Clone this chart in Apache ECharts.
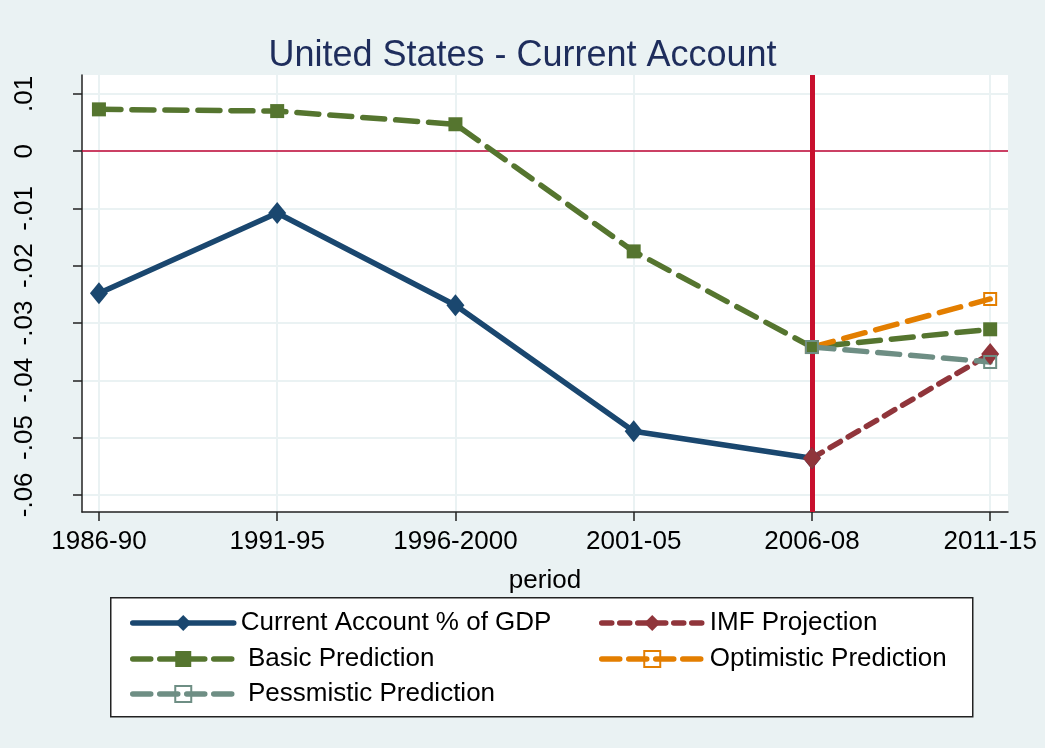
<!DOCTYPE html>
<html>
<head>
<meta charset="utf-8">
<script src="https://cdn.jsdelivr.net/npm/echarts@6/dist/echarts.min.js"></script>
<style>
  html, body { margin: 0; padding: 0; background: #eaf2f3; }
  #chart { width: 1045px; height: 748px; }
</style>
</head>
<body>
<div id="chart"></div>
<script>
// periods on the x axis
const periods = ['1986-90', '1991-95', '1996-2000', '2001-05', '2006-08', '2011-15']
const yTicks = [-0.06, -0.05, -0.04, -0.03, -0.02, -0.01, 0, 0.01]

// series values (null = no point)
const currentAccount = [-0.0248, -0.0108, -0.0269, -0.0489, -0.0536, null]
const imfProjection = [null, null, null, null, -0.0536, -0.0354]
const basicPrediction = [0.0073, 0.0070, 0.0047, -0.0175, -0.0342, -0.0311]
const optimisticPrediction = [null, null, null, null, -0.0342, -0.0258]
const pessimisticPrediction = [null, null, null, null, -0.0342, -0.0368]

const FONT = '"Liberation Sans", Arial, sans-serif'

const toPairs = arr => arr.map((v, i) => (v === null ? null : [i, v])).filter(p => p)

const fmtY = v => {
  if (Math.abs(v) < 1e-9) return '0'
  const s = Math.abs(v).toFixed(2).replace(/^0/, '')
  return v < 0 ? '-' + s : s
}

const chart = echarts.init(document.getElementById('chart'))

const mkSeries = (name, data, color, opts) => Object.assign({
  name,
  type: 'line',
  data: toPairs(data),
  z: 5,
  lineStyle: { color, width: 5.5, cap: 'round' },
  itemStyle: { color, borderColor: color, borderWidth: 0 },
  symbolSize: 14,
  animation: false
}, opts)

// legend entries: name, left, top, dash
const legendItems = [
  ['Current Account % of GDP', 125, 605, 'solid'],
  [' Basic Prediction', 125, 641, [18, 9]],
  [' Pessmistic Prediction', 125, 676, [18, 9]],
  ['IMF Projection', 594, 605, [10, 8]],
  ['Optimistic Prediction', 594, 641, [18, 9]]
]

const option = {
  backgroundColor: '#eaf2f3',
  title: {
    text: 'United States - Current Account',
    left: 'center',
    top: 33,
    textStyle: { fontFamily: FONT, fontSize: 36, fontWeight: 'normal', color: '#1e2d5c' }
  },
  grid: { left: 82, right: 37, top: 75, bottom: 236, show: true, backgroundColor: '#ffffff', borderWidth: 0 },
  xAxis: {
    type: 'value',
    min: -0.095,
    max: 5.1,
    splitNumber: 5,
    name: 'period',
    nameLocation: 'middle',
    nameGap: 56,
    nameTextStyle: { fontFamily: FONT, fontSize: 26, color: '#000' },
    axisLine: { show: true, onZero: false, lineStyle: { color: '#222', width: 1.5 } },
    axisTick: { show: true, length: 9, customValues: [0, 1, 2, 3, 4, 5], lineStyle: { color: '#222', width: 1.5 } },
    axisLabel: {
      customValues: [0, 1, 2, 3, 4, 5],
      formatter: v => periods[Math.round(v)],
      fontFamily: FONT, fontSize: 26, color: '#000', margin: 17
    },
    splitLine: { show: true, lineStyle: { color: '#eaf2f3', width: 2 } }
  },
  yAxis: {
    type: 'value',
    min: -0.063,
    max: 0.0133,
    splitNumber: 8,
    axisLine: { show: true, onZero: false, lineStyle: { color: '#222', width: 1.5 } },
    axisTick: { show: true, length: 9, customValues: yTicks, lineStyle: { color: '#222', width: 1.5 } },
    axisLabel: {
      customValues: yTicks,
      formatter: fmtY,
      rotate: 90,
      fontFamily: FONT, fontSize: 26, color: '#000', margin: 44
    },
    splitLine: { show: true, lineStyle: { color: '#eaf2f3', width: 2 } }
  },
  legend: legendItems.map(([name, left, top, dash]) => ({
    data: [name],
    left,
    top,
    itemWidth: 101,
    itemHeight: 20,
    itemGap: 0,
    selectedMode: false,
    lineStyle: { width: 5.5, type: dash, cap: 'round' },
    textStyle: { fontFamily: FONT, fontSize: 26, color: '#000', padding: [0, 0, 0, 2] }
  })),
  graphic: [{
    type: 'rect',
    left: 110,
    top: 597,
    shape: { width: 862, height: 119 },
    style: { fill: '#ffffff', stroke: '#222', lineWidth: 1.5 },
    z: -1
  }],
  series: [
    {
      name: 'refLines',
      type: 'line',
      data: [],
      z: 2,
      silent: true,
      markLine: {
        symbol: 'none',
        label: { show: false },
        animation: false,
        data: [
          { yAxis: 0, lineStyle: { color: '#c10534', width: 1.5, type: 'solid' } },
          { xAxis: 4, lineStyle: { color: '#c8102e', width: 5, type: 'solid' } }
        ]
      }
    },
    mkSeries('Current Account % of GDP', currentAccount, '#1a476f', { symbol: 'diamond', symbolSize: [18, 22] }),
    mkSeries('IMF Projection', imfProjection, '#90353b', {
      symbol: 'diamond', symbolSize: [18, 22],
      lineStyle: { color: '#90353b', width: 5.5, type: [12, 9], cap: 'round' }
    }),
    mkSeries(' Basic Prediction', basicPrediction, '#55752f', {
      symbol: 'rect', symbolSize: 14,
      lineStyle: { color: '#55752f', width: 5.5, type: [22, 11], cap: 'round' }
    }),
    mkSeries('Optimistic Prediction', optimisticPrediction, '#e37e00', {
      symbol: 'rect', symbolSize: 12,
      itemStyle: { color: 'rgba(255,255,255,0)', borderColor: '#e37e00', borderWidth: 2 },
      lineStyle: { color: '#e37e00', width: 5.5, type: [22, 11], cap: 'round' }
    }),
    mkSeries(' Pessmistic Prediction', pessimisticPrediction, '#6e8e84', {
      symbol: 'rect', symbolSize: 12,
      itemStyle: { color: 'rgba(255,255,255,0)', borderColor: '#6e8e84', borderWidth: 2 },
      lineStyle: { color: '#6e8e84', width: 5.5, type: [22, 11], cap: 'round' }
    })
  ]
}

chart.setOption(option)
</script>
</body>
</html>
